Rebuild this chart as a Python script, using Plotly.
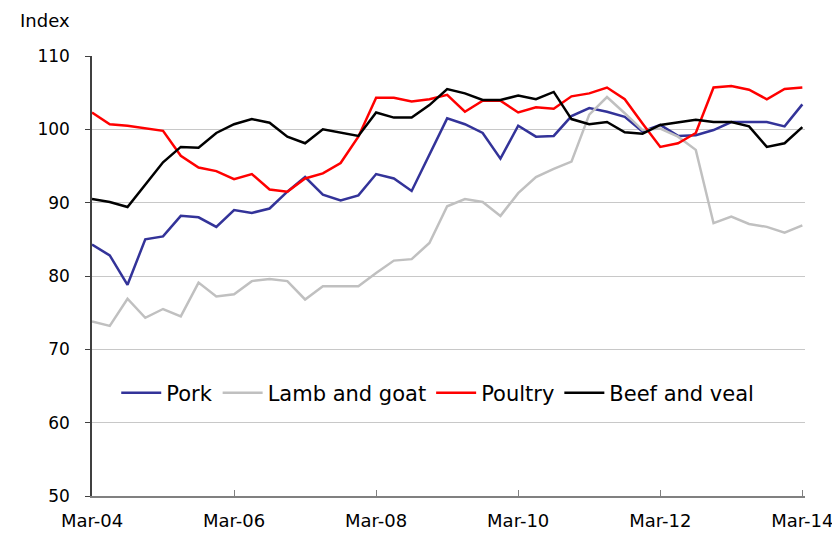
import plotly.graph_objects as go

# Quarterly index, Mar-04 .. Mar-14 (41 quarters)
quarters = list(range(41))
tick_pos = [0, 8, 16, 24, 32, 40]
tick_labels = ["Mar-04", "Mar-06", "Mar-08", "Mar-10", "Mar-12", "Mar-14"]

pork = [84.3, 82.8, 78.8, 85.0, 85.4, 88.2, 88.0, 86.7, 89.0, 88.6,
        89.2, 91.5, 93.5, 91.1, 90.3, 91.0, 93.9, 93.3, 91.6, 96.5,
        101.5, 100.7, 99.5, 96.0, 100.5, 99.0, 99.1, 101.8, 102.9, 102.4,
        101.7, 99.7, 100.6, 99.1, 99.2, 99.9, 101.0, 101.0, 101.0, 100.4,
        103.4]
lamb = [73.8, 73.2, 76.9, 74.3, 75.5, 74.5, 79.1, 77.2, 77.5, 79.3,
        79.6, 79.3, 76.8, 78.6, 78.6, 78.6, 80.4, 82.1, 82.3, 84.5,
        89.5, 90.5, 90.1, 88.2, 91.3, 93.5, 94.6, 95.6, 102.0, 104.4,
        102.2, 99.9, 100.1, 99.0, 97.2, 87.2, 88.1, 87.1, 86.7, 85.9,
        86.9]
poultry = [102.3, 100.7, 100.5, 100.2, 99.8, 96.4, 94.8, 94.3, 93.2, 93.9,
           91.8, 91.5, 93.3, 94.0, 95.4, 99.0, 104.3, 104.3, 103.8, 104.1,
           104.7, 102.4, 103.9, 103.9, 102.3, 103.0, 102.8, 104.5, 104.9, 105.7,
           104.1, 100.8, 97.6, 98.1, 99.5, 105.7, 105.9, 105.4, 104.1, 105.5,
           105.7]
beef = [90.5, 90.1, 89.4, 92.5, 95.5, 97.6, 97.5, 99.5, 100.7, 101.4,
        100.9, 99.0, 98.1, 100.0, 99.6, 99.1, 102.3, 101.6, 101.6, 103.3,
        105.5, 104.9, 104.0, 104.0, 104.6, 104.1, 105.1, 101.4, 100.7, 101.0,
        99.6, 99.4, 100.6, 101.0, 101.3, 101.0, 101.0, 100.4, 97.6, 98.1,
        100.3]

series = [
    ("Pork", pork, "#333399"),
    ("Lamb and goat", lamb, "#c0c0c0"),
    ("Poultry", poultry, "#ff0000"),
    ("Beef and veal", beef, "#000000"),
]

fig = go.Figure()
for name, vals, color in series:
    fig.add_trace(go.Scatter(x=quarters, y=vals, mode="lines", name=name,
                             line=dict(color=color, width=2.5)))

# page body has an 8px margin, so the figure is 8px smaller than the window
fig.update_layout(
    width=832, height=527,
    margin=dict(l=84, r=35, t=48, b=39, autoexpand=False),
    paper_bgcolor="white", plot_bgcolor="white",
    font=dict(family="DejaVu Sans", size=17, color="black"),
    showlegend=True,
    legend=dict(orientation="h", x=0.034, y=0.234, xanchor="left", yanchor="middle",
                font=dict(size=21), bgcolor="rgba(0,0,0,0)", itemwidth=40),
)
fig.add_annotation(text="Index", x=-74 / 713, y=1 + 36 / 440, xref="paper", yref="paper",
                   xanchor="left", yanchor="middle", showarrow=False, font=dict(size=18))

fig.update_xaxes(range=[0, 40.15], tickvals=tick_pos, ticktext=tick_labels,
                 showgrid=False, showline=True, linecolor="#808080", linewidth=1.5,
                 ticks="inside", ticklen=6, tickcolor="#808080", zeroline=False,
                 ticklabelstandoff=8, tickfont=dict(size=18))
fig.update_yaxes(range=[50, 110], dtick=10, showgrid=True, gridcolor="#c8c8c8",
                 gridwidth=1, showline=True, linecolor="#404040", linewidth=1.5,
                 ticks="outside", ticklen=5, tickcolor="#404040", zeroline=False,
                 ticklabelstandoff=12, tickfont=dict(size=17))

fig.write_html("out.html")
